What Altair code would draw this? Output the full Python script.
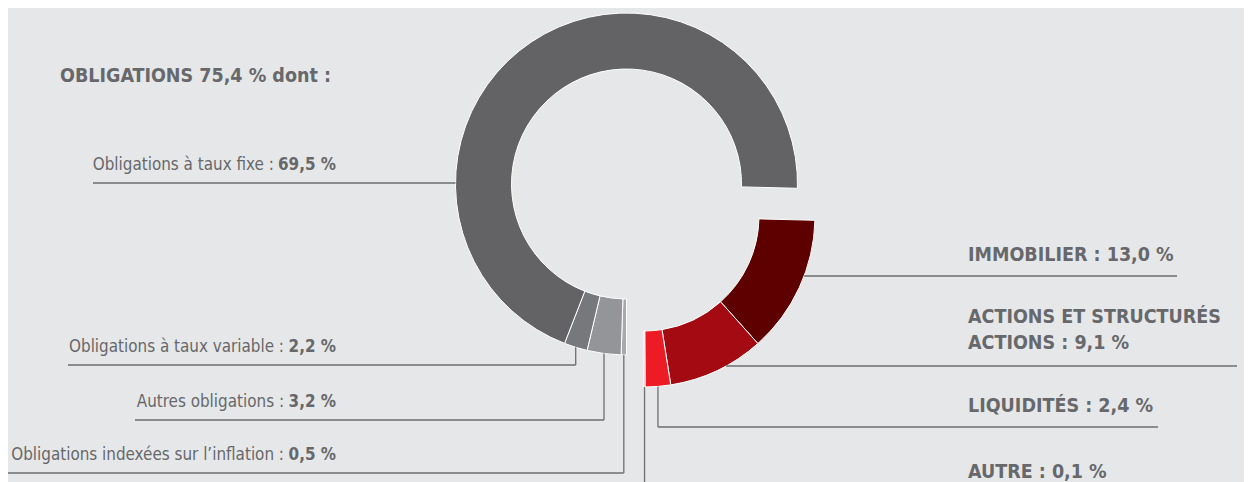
import math
import altair as alt
import pandas as pd

# ---------------- data ----------------
categories = [
    "Obligations indexées sur l’inflation",
    "Autres obligations",
    "Obligations à taux variable",
    "Obligations à taux fixe",
    "IMMOBILIER",
    "ACTIONS ET STRUCTURÉS\nACTIONS",
    "LIQUIDITÉS",
    "AUTRE",
]
values = [0.5, 3.2, 2.2, 69.5, 13.0, 9.1, 2.4, 0.1]
groups = ["OBLIGATIONS"] * 4 + ["AUTRES"] * 4

# ---------------- styles ----------------
colors = ["#a7a9ac", "#939598", "#77787b", "#636366",
          "#5e0000", "#a30a12", "#ed1c24", "#f0555a"]
BG = "#e6e7e8"
TEXT = "#67686b"
LINE = "#6d6e71"
FONT = "DejaVu Sans Condensed, Liberation Sans Narrow, sans-serif"
FS_LABEL = 16.9
FS_BOLD = 19.5

# ---------------- layout (pixels in chart space) ----------------
W, H = 1236, 474
R_OUT, R_IN = 171, 115
centers = {"OBLIGATIONS": (618.5, 176), "AUTRES": (636, 208)}
sides = ["left"] * 4 + ["right"] * 4
leader_kind = ["v", "v", "v", "h", "h", "h", "v", "v"]
leader_y = [465, 412, 357, 175, 268, 358, 419, 480]
leader_end_x = [0, 127, 60, 85, 1169, 1229, 1150, None]
label_x = [328, 328, 328, 328, 960, 960, 960, 960]
label_reg_x = [276, 276, 276, 265.8, None, None, None, None]
label_y = [452, 399, 344, 162, 253, 315, 404, 469.5]
header_pos = (52, 74)

df = pd.DataFrame({
    "cat": categories,
    "value": values,
    "group": groups,
    "rank": list(range(len(categories))),
    "side": sides,
    "kind": leader_kind,
    "ly": leader_y,
    "ex0": leader_end_x,
    "lx": label_x,
    "rx": label_reg_x,
    "ty": label_y,
    "cx": [centers[g][0] for g in groups],
    "cy": [centers[g][1] for g in groups],
})

base = (
    alt.Chart(df)
    .transform_stack(stack="value", as_=["t0", "t1"], groupby=[],
                     sort=[alt.SortField(field="rank", order="ascending")])
    .transform_calculate(a="PI + PI * (datum.t0 + datum.t1) / 100")
    .transform_calculate(vfmt="replace(format(datum.value, '.1f'), '.', ',') + ' %'")
    .transform_calculate(
        ax=f"datum.kind == 'v' ? datum.cx + {R_OUT} * sin(datum.a) : "
           f"datum.cx + (sin(datum.a) < 0 ? -1 : 1) * sqrt({R_OUT}*{R_OUT} - pow(datum.ly - datum.cy, 2))"
    )
    .transform_calculate(ay=f"datum.kind == 'v' ? datum.cy - {R_OUT} * cos(datum.a) : datum.ly")
    .transform_calculate(ex="isValid(datum.ex0) ? datum.ex0 : datum.ax")
)

px = lambda f: alt.X(f"{f}:Q", scale=None, axis=None)
py = lambda f: alt.Y(f"{f}:Q", scale=None, axis=None)

arcs = base.mark_arc(radius=R_OUT, radius2=R_IN, stroke="white", strokeWidth=1).encode(
    theta=alt.Theta("t0:Q", stack=None,
                    scale=alt.Scale(domain=[0, 100], range=[math.pi, 3 * math.pi])),
    theta2="t1:Q",
    x=px("cx"),
    y=py("cy"),
    color=alt.Color("cat:N", scale=alt.Scale(domain=categories, range=colors), legend=None),
)

lead_v = base.mark_rule(color=LINE, strokeWidth=1.3).encode(
    x=px("ax"), y=py("ay"), x2="ax:Q", y2="ly:Q"
)
lead_h = base.mark_rule(color=LINE, strokeWidth=1.3).encode(
    x=px("ax"), y=py("ly"), x2="ex:Q", y2="ly:Q"
)

left = base.transform_filter("datum.side == 'left'")
left_reg = left.transform_calculate(txt="datum.cat + ' :'").mark_text(
    align="right", baseline="alphabetic", font=FONT, fontSize=FS_LABEL, color=TEXT
).encode(x=px("rx"), y=py("ty"), text="txt:N")
left_bold = left.mark_text(
    align="right", baseline="alphabetic", font=FONT, fontSize=FS_LABEL,
    fontWeight="bold", color=TEXT
).encode(x=px("lx"), y=py("ty"), text="vfmt:N")

right_lbl = base.transform_filter("datum.side == 'right'").transform_calculate(
    txt="datum.cat + ' : ' + datum.vfmt"
).mark_text(
    align="left", baseline="alphabetic", font=FONT, fontSize=FS_BOLD,
    fontWeight="bold", color=TEXT, lineBreak="\n", lineHeight=26
).encode(x=px("lx"), y=py("ty"), text="txt:N")

header = (
    base.transform_filter("datum.group == 'OBLIGATIONS'")
    .transform_aggregate(total="sum(value)", groupby=["group"])
    .transform_calculate(
        txt="datum.group + ' ' + replace(format(datum.total, '.1f'), '.', ',') + ' % dont :'"
    )
    .mark_text(align="left", baseline="alphabetic", font=FONT, fontSize=FS_BOLD,
               fontWeight="bold", color=TEXT)
    .encode(x=alt.value(header_pos[0]), y=alt.value(header_pos[1]), text="txt:N")
)

chart = (
    alt.layer(arcs, lead_v, lead_h, left_reg, left_bold, right_lbl, header)
    .properties(width=W, height=H, padding=0,
                autosize=alt.AutoSizeParams(type="none"), background=BG)
    .configure_view(strokeWidth=0)
)

chart.save("out.html", embed_options={"renderer": "svg", "actions": False})
